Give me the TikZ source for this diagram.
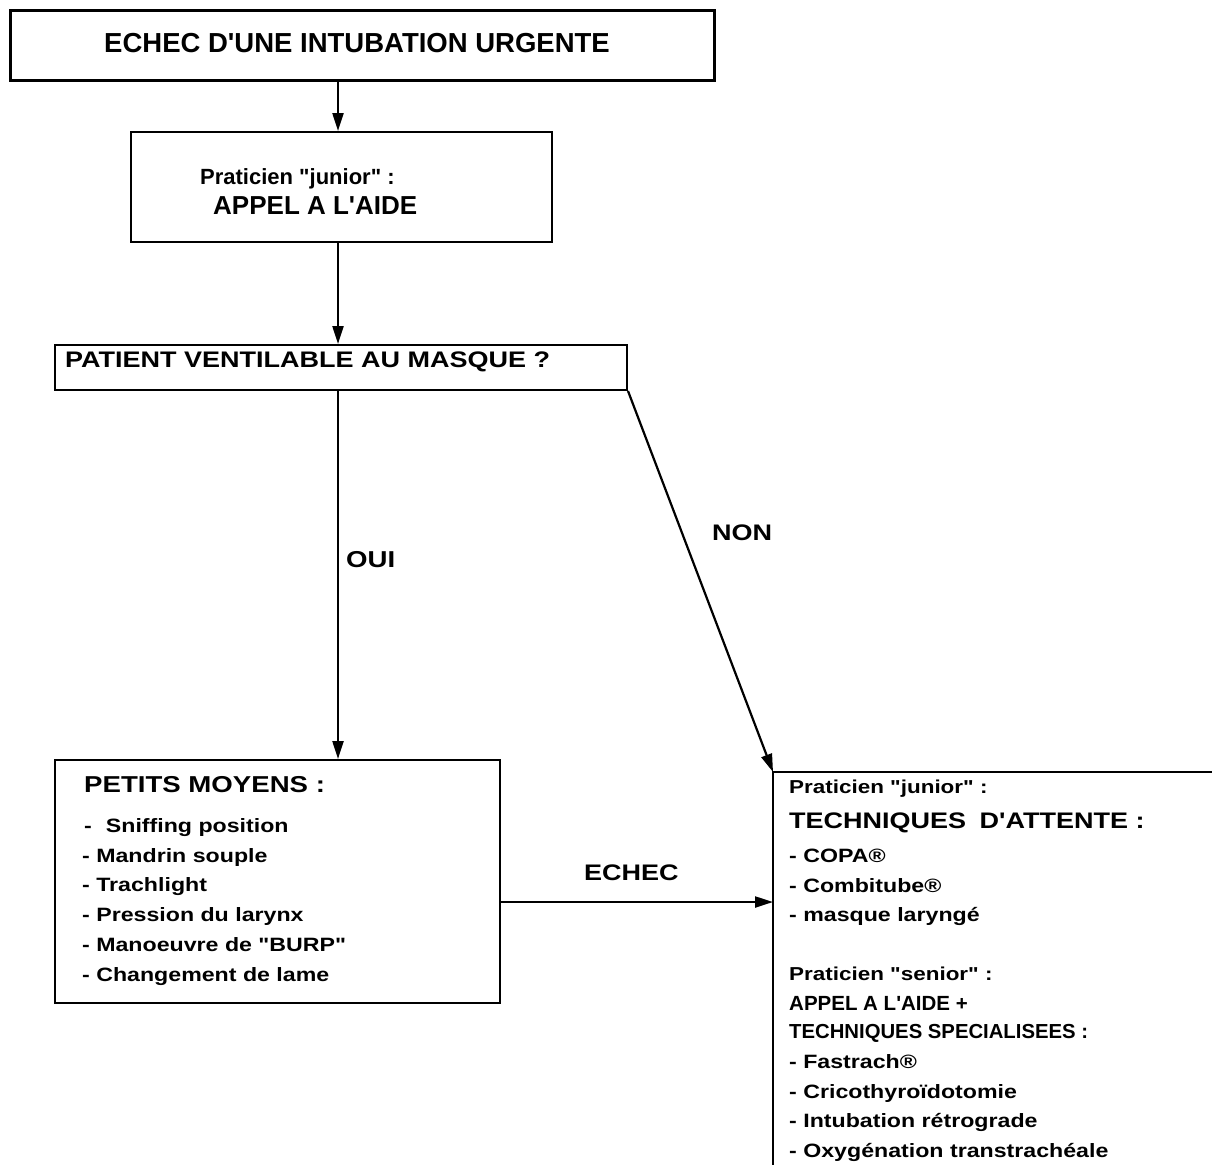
\documentclass[tikz,border=0pt]{standalone}
\usepackage{fontspec}
\usetikzlibrary{arrows.meta}
\newfontfamily\plainb{Liberation Sans Bold}
\newfontfamily\wideb{Liberation Sans Bold}[FakeStretch=1.2]
\newcommand{\fsz}[1]{\fontsize{#1}{#1}\selectfont}
\begin{document}
\begin{tikzpicture}[x=1pt,y=-1pt,
  box/.style={draw, line width=2pt, inner sep=0pt},
  txt/.style={anchor=base west, inner sep=0pt},
  big/.style={txt, font=\wideb\fsz{22.5}},
  item/.style={txt, font=\wideb\fsz{19.3}},
  arr/.style={line width=2.2pt, -{Triangle[length=18pt,width=11pt]}}]
\useasboundingbox (0,0) rectangle (1212,1165);
\fill[white] (0,0) rectangle (1212,1165);
% boxes
\node[box, line width=3pt, minimum width=704pt, minimum height=70pt] (top) at (362.5,45.5) {};
\node[box, minimum width=421pt, minimum height=110pt] (b2) at (341.5,187) {};
\node[box, minimum width=572pt, minimum height=45pt] (b3) at (341,367.5) {};
\node[box, minimum width=445pt, minimum height=243pt] (b4) at (277.5,881.5) {};
\coordinate (b5) at (773,772);
\coordinate (b5r) at (1212,772);
\coordinate (b5b) at (773,1165);
\draw[line width=2pt] (b5r) -- (b5) -- (b5b);
% connectors
\coordinate (ax) at (338,0);
\coordinate (ey) at (0,902);
\draw[arr] (top.south -| ax) -- (b2.north -| ax);
\draw[arr] (b2.south -| ax) -- (b3.north -| ax);
\draw[arr] (b3.south -| ax) -- (b4.north -| ax);
\draw[arr] (b3.south east) -- (b5);
\draw[arr] (b4.east |- ey) -- (b5 |- ey);
% labels
\node[txt, font=\wideb\fsz{23}] (lOUI) at (346,567) {OUI};
\node[txt, font=\wideb\fsz{22.5}] (lNON) at (712,540) {NON};
\node[txt, font=\wideb\fsz{22.5}] (lECHEC) at (584,880) {ECHEC};
% texts
\node[txt, font=\plainb\fsz{27.5}] (t1) at (104,52) {ECHEC D'UNE INTUBATION URGENTE};
\node[txt, font=\plainb\fsz{22}] (t2a) at (200,184) {Praticien "junior" :};
\node[txt, font=\plainb\fsz{26}] (t2b) at (213,214) {APPEL A L'AIDE};
\node[big] (t3) at (65,367) {PATIENT VENTILABLE AU MASQUE ?};
\node[txt, font=\wideb\fsz{23}] (t4) at (84,792) {PETITS MOYENS :};
\node[item] (t4a) at (84,832) {-\hspace{14pt}Sniffing position};
\node[item] (t4b) at (82,862) {- Mandrin souple};
\node[item] (t4c) at (82,891.5) {- Trachlight};
\node[item] (t4d) at (82,921.5) {- Pression du larynx};
\node[item] (t4e) at (82,951) {- Manoeuvre de "BURP"};
\node[item] (t4f) at (82,981) {- Changement de lame};
\node[txt, font=\wideb\fsz{18.7}] (t5a) at (789,793) {Praticien "junior" :};
\node[big] (t5b) at (789,828) {TECHNIQUES\hspace{6pt} D'ATTENTE :};
\node[item] (t5c) at (789,862) {- COPA®};
\node[item] (t5d) at (789,892) {- Combitube®};
\node[item] (t5e) at (789,921) {- masque laryngé};
\node[txt, font=\wideb\fsz{18.7}] (t5f) at (789,980) {Praticien "senior" :};
\node[txt, font=\plainb\fsz{20.5}] (t5g) at (789,1010) {APPEL A L'AIDE +};
\node[txt, font=\plainb\fsz{20.3}] (t5h) at (789,1038) {TECHNIQUES SPECIALISEES :};
\node[item] (t5i) at (789,1068) {- Fastrach®};
\node[item] (t5j) at (789,1098) {- Cricothyroïdotomie};
\node[item] (t5k) at (789,1127) {- Intubation rétrograde};
\node[item] (t5l) at (789,1157) {- Oxygénation transtrachéale};
\end{tikzpicture}
\end{document}
